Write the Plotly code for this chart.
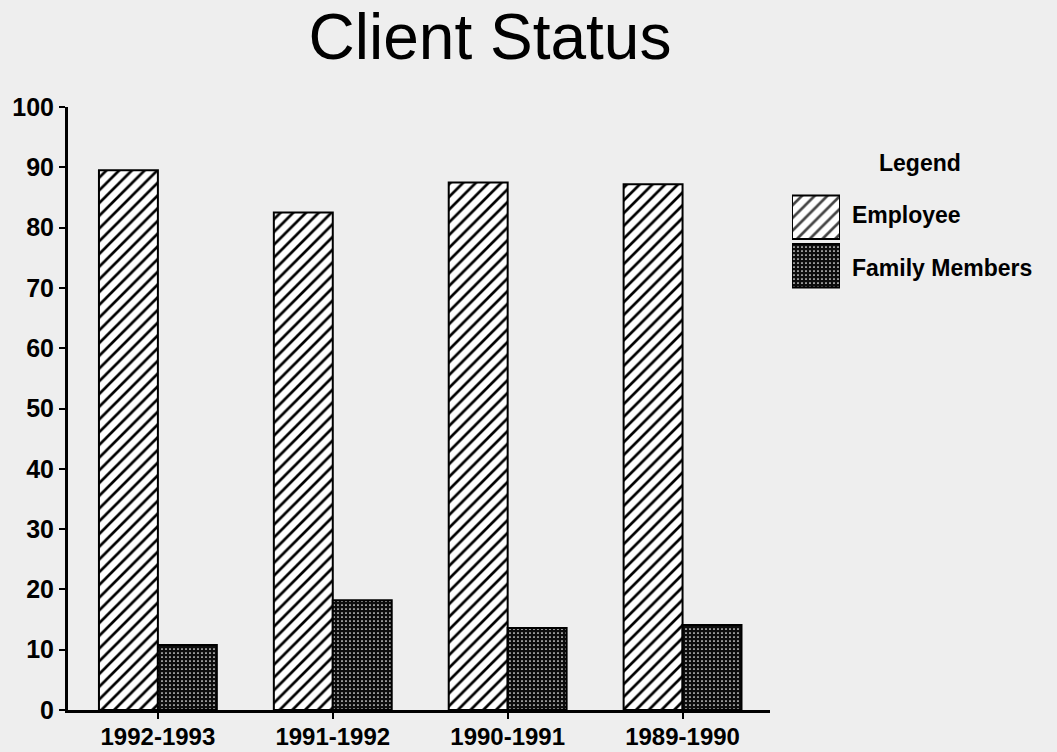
import plotly.graph_objects as go

periods = ["1992-1993", "1991-1992", "1990-1991", "1989-1990"]
employee = [89.5, 82.5, 87.5, 87.2]
family_members = [10.8, 18.2, 13.6, 14.1]
series_names = ["Employee", "Family Members"]
y_ticks = [0, 10, 20, 30, 40, 50, 60, 70, 80, 90, 100]

BG = "#eeeeee"
FONT = "Liberation Sans"

hatch = dict(shape="/", fgcolor="black", bgcolor="white", fgopacity=1,
             size=9, solidity=0.3)
dots = dict(shape=".", fgcolor="white", bgcolor="#0d0d0d", fgopacity=1,
            size=4, solidity=0.15)

fig = go.Figure()

fig.add_trace(go.Bar(
    x=periods, y=employee, name=series_names[0],
    marker=dict(color="white", line=dict(color="black", width=2), pattern=hatch),
    showlegend=False,
))
fig.add_trace(go.Bar(
    x=periods, y=family_members, name=series_names[1],
    marker=dict(color="#0d0d0d", line=dict(color="black", width=2), pattern=dots),
    showlegend=False,
))

# legend swatches drawn as bars on a tiny hidden subplot
fig.add_trace(go.Bar(
    y=series_names[::-1], x=[1, 1], orientation="h", width=0.9,
    xaxis="x2", yaxis="y2", showlegend=False, hoverinfo="skip",
    marker=dict(
        color=["#0d0d0d", "white"],
        line=dict(color="black", width=2),
        pattern=dict(shape=[".", "/"], fgcolor=["white", "black"],
                     bgcolor=["#0d0d0d", "white"], fgopacity=1,
                     size=[4, 9], solidity=[0.15, 0.3]),
    ),
))

W, H = 1057, 752
ml, mr, mt, mb = 68, 5, 107, 42
pw = W - ml - mr
ph = H - mt - mb


def px_x(p):
    return (p - ml) / pw


def px_y(p):
    return (H - mb - p) / ph


fig.update_layout(
    width=W, height=H,
    margin=dict(l=ml, r=mr, t=mt, b=mb, autoexpand=False),
    paper_bgcolor=BG, plot_bgcolor=BG,
    barmode="group", bargap=0.326, bargroupgap=0,
    font=dict(family=FONT, color="black"),
    title=dict(text="Client Status", x=490 / W, xref="container", xanchor="center",
               y=1 - 37 / H, yref="container", yanchor="middle",
               font=dict(family=FONT, size=64, color="black")),
    xaxis=dict(
        domain=[0, px_x(770)], range=[-0.514, 3.5], automargin=False,
        showline=True, linecolor="black", linewidth=3,
        ticks="outside", ticklen=6, tickwidth=2, tickcolor="black",
        tickfont=dict(size=24, weight="bold"), ticklabelstandoff=-3,
        showgrid=False, zeroline=False,
    ),
    yaxis=dict(
        range=[0, 100], tickvals=y_ticks, automargin=False,
        showline=True, linecolor="black", linewidth=3,
        ticks="outside", ticklen=6, tickwidth=2, tickcolor="black",
        tickfont=dict(size=25, weight="bold"), ticklabelstandoff=0,
        showgrid=False, zeroline=False,
    ),
    xaxis2=dict(domain=[px_x(792), px_x(840)], range=[0, 1], visible=False, anchor="y2"),
    yaxis2=dict(domain=[px_y(290), px_y(193)], range=[-0.5, 1.5], visible=False,
                anchor="x2", type="category", categoryorder="array",
                categoryarray=series_names[::-1]),
    annotations=[
        dict(text="<b>Legend</b>", x=px_x(920), y=px_y(163), xref="paper", yref="paper",
             xanchor="center", yanchor="middle", showarrow=False, font=dict(size=23)),
        dict(text="<b>" + series_names[0] + "</b>", x=px_x(850), y=px_y(215),
             xref="paper", yref="paper", xanchor="left", yanchor="middle",
             showarrow=False, font=dict(size=23)),
        dict(text="<b>" + series_names[1] + "</b>", x=px_x(850), y=px_y(268),
             xref="paper", yref="paper", xanchor="left", yanchor="middle",
             showarrow=False, font=dict(size=23)),
    ],
)

fig.write_html("out.html", config={"displayModeBar": False},
               post_script="document.body.style.margin='0';")
